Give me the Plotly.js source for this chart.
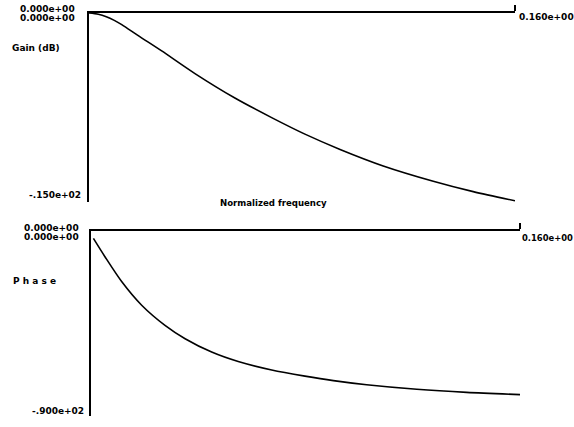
<!DOCTYPE html>
<html><head><meta charset="utf-8">
<script src="https://cdn.plot.ly/plotly-3.0.1.min.js"></script>
<style>html,body{margin:0;padding:0;background:#fff}</style>
</head><body><div id="chart" style="width:574px;height:427px"></div>
<script>
// Gain panel (normalized frequency vs dB)
const freqGain = [0, 0.0035, 0.0065, 0.0095, 0.0123, 0.0185, 0.0273, 0.0398, 0.0548, 0.0686, 0.0811, 0.0943, 0.1105, 0.1293, 0.1443, 0.16];
const gainDb = [0, -0.1, -0.3, -0.6, -0.95, -1.85, -3.1, -4.95, -6.95, -8.55, -9.9, -11.15, -12.5, -13.75, -14.6, -15.35];
// Phase panel (normalized frequency vs degrees)
const freqPhase = [0.0009, 0.0052, 0.0115, 0.0189, 0.0276, 0.0351, 0.045, 0.0549, 0.0674, 0.0798, 0.0904, 0.1028, 0.1215, 0.1401, 0.16];
const phaseDeg = [-3.6, -12.5, -24.7, -36.1, -45.9, -52.4, -58.9, -63.5, -67.6, -70.6, -72.8, -74.8, -77.0, -78.5, -79.6];
// Tick label texts
const yTopLabels = ["0.000e+00", "-.150e+02"];
const yBotLabels = ["0.000e+00", "-.900e+02"];
const xZeroLabel = "0.000e+00";
const xEndLabel = "0.160e+00";
const gainTitle = "Gain (dB)";
const phaseTitle = "P h a s e";
const xTitle = "Normalized frequency";

const W = 574, H = 427;
const px = x => x / W, py = y => 1 - y / H;
const f = {family: "DejaVu Sans", size: 9, color: "#000", weight: "bold"};

function lab(text, x, y, anchor, font) {
  return {text, x: px(x), y: py(y), xref: "paper", yref: "paper", xanchor: anchor, yanchor: "middle",
          showarrow: false, borderpad: 0, font: font || f};
}

const axisBase = {showline: true, linewidth: 2, linecolor: "#000", showgrid: false, zeroline: false,
                  showticklabels: false, ticks: ""};
const lineStyle = {color: "#000", width: 1.6, shape: "spline", smoothing: 0.8};

const data = [
  {x: freqGain, y: gainDb, xaxis: "x", yaxis: "y", mode: "lines", line: lineStyle, hoverinfo: "skip"},
  {x: freqPhase, y: phaseDeg, xaxis: "x2", yaxis: "y2", mode: "lines", line: lineStyle, hoverinfo: "skip"}
];

const layout = {
  width: W, height: H, margin: {l: 0, r: 0, t: 0, b: 0},
  paper_bgcolor: "#fff", plot_bgcolor: "#fff", showlegend: false,
  xaxis: Object.assign({}, axisBase, {domain: [px(89), px(515)], range: [0, 0.16], side: "top", anchor: "y",
          tickvals: [0.16], ticks: "outside", ticklen: 6, tickwidth: 1.5, tickcolor: "#000"}),
  yaxis: Object.assign({}, axisBase, {domain: [py(202), py(13)], range: [-15.45, 0], anchor: "x"}),
  xaxis2: Object.assign({}, axisBase, {domain: [px(91), px(520)], range: [0, 0.16], side: "top", anchor: "y2",
          tickvals: [0.16], ticks: "outside", ticklen: 6, tickwidth: 1.5, tickcolor: "#000"}),
  yaxis2: Object.assign({}, axisBase, {domain: [py(416), py(231)], range: [-90, 0], anchor: "x2"}),
  annotations: [
    lab(yTopLabels[0], 76, 9, "right"),
    lab(xZeroLabel, 76, 18, "right"),
    lab(gainTitle, 11, 48, "left"),
    lab(yTopLabels[1], 82, 195, "right"),
    lab(xEndLabel, 518, 17, "left"),
    lab(xTitle, 219, 203, "left", {family: "DejaVu Sans", size: 8.6, color: "#000", weight: "bold"}),
    lab(yBotLabels[0], 80, 228, "right"),
    lab(xZeroLabel, 80, 237, "right"),
    lab(phaseTitle, 12, 281, "left"),
    lab(xEndLabel, 521, 238, "left", {family: "DejaVu Sans", size: 8.4, color: "#000", weight: "bold"}),
    lab(yBotLabels[1], 85, 411, "right")
  ]
};

Plotly.newPlot("chart", data, layout, {staticPlot: true, displayModeBar: false});
</script></body></html>
